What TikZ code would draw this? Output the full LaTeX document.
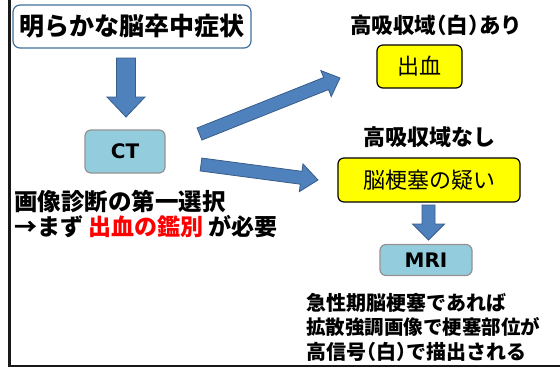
\documentclass[tikz,border=0pt]{standalone}
\usepackage{fontspec}
\setmainfont{Noto Sans CJK JP}
\newfontfamily\latinb{DejaVu Sans}
\usetikzlibrary{calc}
\definecolor{arrfill}{HTML}{4F81BD}
\definecolor{arrdraw}{HTML}{385D8A}
\definecolor{ltblue}{HTML}{93CDDD}
\definecolor{boxblue}{HTML}{41719C}
\definecolor{yel}{HTML}{FFFF00}
\newcommand\fsz[1]{\fontsize{#1}{#1}\selectfont}
\newcommand\hpar[1]{{\addfontfeature{RawFeature=+halt}#1}}
% fat block arrow: #1 options, #2 start, #3 end, #4 name, #5 shaft half-width, #6 head half-width, #7 head length
\newcommand\fatarrow[7]{%
  \coordinate (#4h) at ($(#3)!#7!(#2)$);
  \filldraw[#1] ($(#2)!#5!90:(#3)$) -- ($(#4h)!#5!-90:(#2)$) -- ($(#4h)!#6!-90:(#2)$)
    -- (#3) -- ($(#4h)!#6!90:(#2)$) -- ($(#4h)!#5!90:(#2)$) -- ($(#2)!#5!-90:(#3)$) -- cycle;}
\begin{document}
\begin{tikzpicture}[x=1pt,y=-1pt,
  blk/.style={fill=arrfill,draw=arrdraw,line width=0.8pt,line join=miter},
  titlebox/.style={draw=boxblue,line width=1.2pt,fill=white,rounded corners=7pt,inner sep=0pt},
  bluebox/.style={draw=gray!85,line width=1.2pt,fill=ltblue,rounded corners=6pt,inner sep=0pt},
  yelbox/.style={draw=black,line width=1.2pt,fill=yel,rounded corners=6pt,inner sep=0pt},
  lbl/.style={inner sep=0pt,font=\bfseries\fsz{21}}]
\useasboundingbox (0,0) rectangle (560,367);
\fill[white] (0,0) rectangle (560,367);
% frame
\draw[line width=2.5pt,black!90] (9.7,0) -- (9.7,365.8) -- (560,365.8);
% nodes
\node[titlebox,minimum width=238pt,minimum height=43pt] (top) at (132,26.5) {\bfseries\fsz{25}明らかな脳卒中症状};
\node[bluebox,minimum width=80pt,minimum height=43pt] (ct) at (125,151.5) {\latinb\bfseries\fsz{20}CT};
\node[lbl,anchor=west,align=left] (t1) at (14,201) {\fsz{23.5}画像診断の第一選択};
\node[lbl,anchor=west] (t2) at (14,227) {\fsz{23}→まず \textcolor{red}{出血の鑑別} が必要};
\node[lbl] (l1) at (436,25) {\fsz{21.5}高吸収域\hpar{（}白\hpar{）}あり};
\node[yelbox,minimum width=85pt,minimum height=43pt] (bl) at (419.5,66.5) {\fsz{22}出血};
\node[lbl] (l2) at (429.5,137) {\fsz{22}高吸収域なし};
\node[yelbox,minimum width=182pt,minimum height=44pt] (inf) at (429,180) {\fsz{22}脳梗塞の疑い};
\node[bluebox,minimum width=92pt,minimum height=31pt] (mri) at (426,260) {\latinb\bfseries\fsz{20}MRI};
\node[lbl,anchor=north west,align=left] (t3) at (306,293) {\fsz{20}急性期脳梗塞であれば\\[3.5pt]\fsz{19.5}拡散強調画像で梗塞部位が\\[3.5pt]\fsz{20}高信号\hpar{（}白\hpar{）}で描出される};
% arrows
\coordinate (a1s) at (126,58);  \coordinate (a1e) at (126,117);
\coordinate (a2s) at (199.5,134); \coordinate (a2e) at (340,78);
\coordinate (a3s) at (201,164.5); \coordinate (a3e) at (318,180);
\coordinate (a4s) at (428.5,205); \coordinate (a4e) at (428.5,240);
\fatarrow{blk}{a1s}{a1e}{A}{9.5pt}{19pt}{20pt}
\fatarrow{blk}{a2s}{a2e}{B}{6.5pt}{14pt}{15pt}
\fatarrow{blk}{a3s}{a3e}{C}{6.5pt}{14pt}{17pt}
\fatarrow{blk}{a4s}{a4e}{D}{6.5pt}{16pt}{16pt}
\end{tikzpicture}
\end{document}
